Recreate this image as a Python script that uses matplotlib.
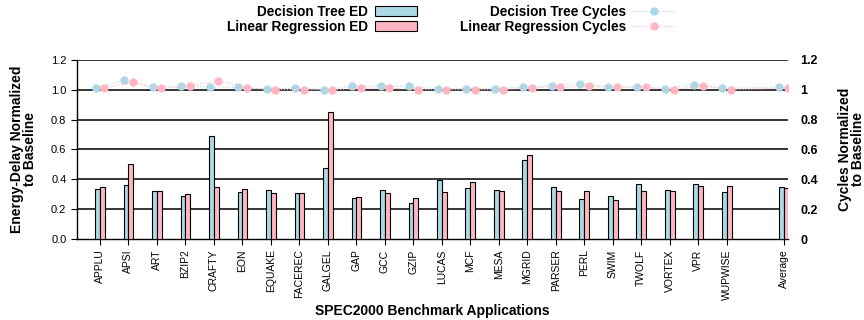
import matplotlib
matplotlib.use("Agg")
import matplotlib.pyplot as plt
import numpy as np

plt.rcParams["font.family"] = ["Liberation Sans", "DejaVu Sans"]

benchmarks = ["APPLU", "APSI", "ART", "BZIP2", "CRAFTY", "EON", "EQUAKE",
              "FACEREC", "GALGEL", "GAP", "GCC", "GZIP", "LUCAS", "MCF",
              "MESA", "MGRID", "PARSER", "PERL", "SWIM", "TWOLF", "VORTEX",
              "VPR", "WUPWISE", "Average"]

dt_ed = [0.333, 0.360, 0.324, 0.286, 0.687, 0.315, 0.327, 0.311, 0.479,
         0.273, 0.329, 0.244, 0.396, 0.340, 0.327, 0.532, 0.351, 0.266,
         0.288, 0.367, 0.327, 0.369, 0.313, 0.347]
lr_ed = [0.351, 0.500, 0.320, 0.302, 0.351, 0.333, 0.311, 0.311, 0.850,
         0.284, 0.311, 0.273, 0.313, 0.383, 0.322, 0.562, 0.322, 0.322,
         0.262, 0.322, 0.322, 0.353, 0.353, 0.345]

dt_cycles = [1.011, 1.063, 1.016, 1.022, 1.018, 1.016, 1.004, 1.011, 1.000,
             1.022, 1.022, 1.022, 1.007, 1.007, 1.007, 1.018, 1.027, 1.040,
             1.018, 1.018, 1.007, 1.034, 1.009, 1.016]
lr_cycles = [1.011, 1.049, 1.009, 1.022, 1.060, 1.011, 1.000, 1.000, 1.000,
             1.009, 1.011, 1.000, 1.000, 1.000, 1.000, 1.013, 1.018, 1.022,
             1.018, 1.018, 1.000, 1.027, 1.000, 1.011]

# one empty slot between the benchmarks and the average
x = np.array(list(range(len(benchmarks) - 1)) + [len(benchmarks)])

blue = "#add8e6"
pink = "#ffb6c1"
w = 0.17

fig = plt.figure(figsize=(8.64, 3.2), dpi=100)
ax = fig.add_axes([0.089, 0.253, 0.823, 0.56])

for y in [0.2, 0.4, 0.6, 0.8, 1.0, 1.2]:
    ax.axhline(y, color="black", lw=1.1, zorder=1)

b1 = ax.bar(x - w / 2, dt_ed, w, color=blue, edgecolor="black", lw=0.8,
            zorder=3, label="Decision Tree ED")
b2 = ax.bar(x + w / 2, lr_ed, w, color=pink, edgecolor="black", lw=0.8,
            zorder=3, label="Linear Regression ED")

l1, = ax.plot(x - 0.15, dt_cycles, ls=":", lw=0.8, color=blue, marker="o",
              ms=6, mec="none", zorder=4, label="Decision Tree Cycles")
l2, = ax.plot(x + 0.15, lr_cycles, ls=":", lw=0.8, color=pink, marker="o",
              ms=6, mec="none", zorder=4, label="Linear Regression Cycles")

ax.set_xlim(-0.81, 24.15)
ax.set_ylim(0, 1.2)
ax.set_xticks(x)
ax.set_xticklabels(benchmarks, rotation=90, fontsize=7.5)
ax.set_yticks([0, 0.2, 0.4, 0.6, 0.8, 1.0, 1.2])
ax.set_yticklabels(["0.0", "0.2", "0.4", "0.6", "0.8", "1.0", "1.2"],
                   fontsize=8)
ax.tick_params(axis="both", direction="out", length=4, width=0.8)
for s in ["top", "right"]:
    ax.spines[s].set_visible(False)
ax.spines["left"].set_linewidth(1.0)
ax.spines["bottom"].set_linewidth(1.0)

ax.set_xlabel("SPEC2000 Benchmark Applications", fontsize=10,
              fontweight="bold", labelpad=3)
ax.set_ylabel("Energy-Delay Normalized\nto Baseline", fontsize=10,
              fontweight="bold", labelpad=10, linespacing=0.95)

ax2 = ax.twinx()
ax2.set_ylim(0, 1.2)
ax2.set_yticks([0, 0.2, 0.4, 0.6, 0.8, 1.0, 1.2])
ax2.set_yticklabels(["0", "0.2", "0.4", "0.6", "0.8", "1", "1.2"],
                    fontsize=9, fontweight="bold")
ax2.tick_params(axis="y", length=0, pad=9)
for s in ax2.spines.values():
    s.set_visible(False)
ax2.set_ylabel("Cycles Normalized\nto Baseline", fontsize=10,
               fontweight="bold", labelpad=14, linespacing=0.95)

fig.legend(handles=[b1, b2], loc="center right",
           bbox_to_anchor=(0.497, 0.94), frameon=False,
           markerfirst=False, prop={"weight": "bold", "size": 9.8},
           handlelength=3.1, handleheight=0.8, labelspacing=0.1,
           handletextpad=0.5)
fig.legend(handles=[l1, l2], loc="center right",
           bbox_to_anchor=(0.795, 0.94), frameon=False,
           markerfirst=False, prop={"weight": "bold", "size": 9.8},
           handlelength=3.1, labelspacing=0.1, handletextpad=0.5)

fig.savefig("out.png", dpi=100)
